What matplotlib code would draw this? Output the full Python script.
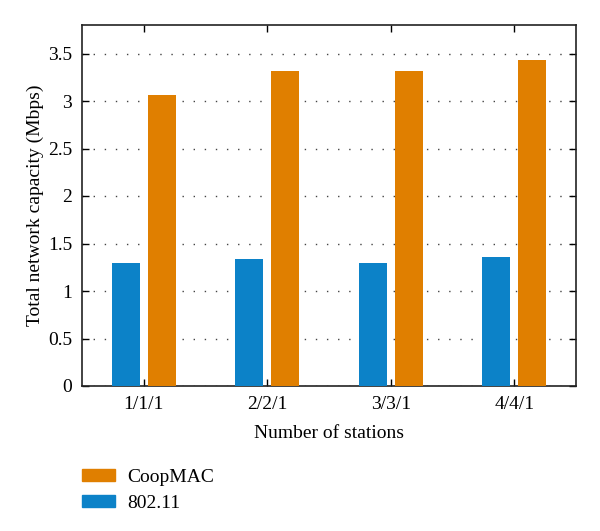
import matplotlib
matplotlib.use("Agg")
import matplotlib.pyplot as plt
import numpy as np
from matplotlib.patches import Patch

categories = ["1/1/1", "2/2/1", "3/3/1", "4/4/1"]
wifi = [1.30, 1.335, 1.30, 1.36]
coopmac = [3.06, 3.32, 3.32, 3.43]
yticks = [0, 0.5, 1, 1.5, 2, 2.5, 3, 3.5]
ytick_labels = ["0", "0.5", "1", "1.5", "2", "2.5", "3", "3.5"]

plt.rcParams['font.family'] = ['Liberation Serif', 'DejaVu Serif']

fig = plt.figure(figsize=(6, 5.31), dpi=100)
W, H = 600, 531
ax = fig.add_axes([82 / W, 1 - 386 / H, (576 - 82) / W, (386 - 25) / H])

x = np.arange(1, len(categories) + 1)
bw = 0.227
off = 0.146
blue = "#0C82C8"
orange = "#E07F00"
ax.bar(x - off, wifi, width=bw, color=blue, zorder=3)
ax.bar(x + off, coopmac, width=bw, color=orange, zorder=3)

ax.set_xlim(0.5, 4.5)
ax.set_ylim(0, 3.8)
ax.set_xticks(x)
ax.set_xticklabels(categories, fontsize=14)
ax.set_yticks(yticks)
ax.set_yticklabels(ytick_labels, fontsize=14)
ax.tick_params(direction='in', top=True, right=True, length=5, width=1, pad=7)
ax.yaxis.grid(True, linestyle=(0, (1, 7)), color="#444444", linewidth=1.0, zorder=0)
for s in ax.spines.values():
    s.set_linewidth(1.2)
    s.set_color("#222222")

ax.set_xlabel("Number of stations", fontsize=14, labelpad=9)
ax.set_ylabel("Total network capacity (Mbps)", fontsize=14, labelpad=3)

handles = [Patch(color=orange, label="CoopMAC"), Patch(color=blue, label="802.11")]
fig.legend(handles=handles, loc="upper left", bbox_to_anchor=(82 / W, 1 - 469 / H),
           frameon=False, fontsize=14, handlelength=1.7, handleheight=0.57,
           handletextpad=0.62, labelspacing=0.45, borderpad=0, borderaxespad=0)

fig.savefig("out.png", dpi=100)
